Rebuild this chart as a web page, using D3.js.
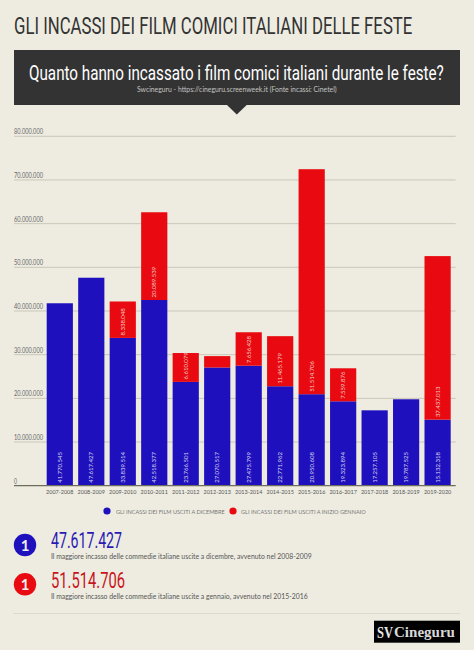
<!DOCTYPE html>
<html><head><meta charset="utf-8">
<script src="https://cdn.jsdelivr.net/npm/d3@7/dist/d3.min.js"></script>
<style>html,body{margin:0;padding:0;background:#eeece1;}svg{display:block}</style>
</head><body><svg id="c" width="474" height="650"></svg>
<script>
const seasons=["2007-2008","2008-2009","2009-2010","2010-2011","2011-2012","2012-2013","2013-2014","2014-2015","2015-2016","2016-2017","2017-2018","2018-2019","2019-2020"];
const december=[41770545,47617427,33839514,42518377,23766501,27070517,27475799,22771962,20950608,19323894,17257105,19787525,15132318];
const january=[0,0,8338048,20089539,6610079,2600000,7656428,11465179,51514706,7559876,0,0,37437013];
const janLabelled=[false,false,true,true,true,false,true,true,true,true,false,false,true];
const yTicks=[0,10000000,20000000,30000000,40000000,50000000,60000000,70000000,80000000];
const legendLabels=["GLI INCASSI DEI FILM USCITI A DICEMBRE","GLI INCASSI DEI FILM USCITI A INIZIO GENNAIO"];
const BLUE="#1f10bd",RED="#e80a10",DARK="#333333",BODY="'Lato','Noto Sans',sans-serif",COND="'Liberation Sans Narrow','Roboto',sans-serif";
const fmt=d3.formatLocale({decimal:",",thousands:".",grouping:[3],currency:["",""]}).format(",d");
const svg=d3.select("#c");
svg.append("rect").attr("width",474).attr("height",650).attr("fill","#eeece1");
// Place text at (tx,ty) scaled horizontally so its rendered width is w; anchor handled by start-position.
function label(parent,t,tx,ty,w,font,size,fill,weight){
  const s=parent.append("text").attr("font-family",font).attr("font-size",size).attr("fill",fill).attr("font-weight",weight||400).text(t);
  const n=s.node().getComputedTextLength();
  s.attr("transform",`translate(${tx},${ty}) scale(${w/n},1)`);
  return s;
}
label(svg,"GLI INCASSI DEI FILM COMICI ITALIANI DELLE FESTE",14,34.3,398.7,COND,23.5,DARK);
svg.append("rect").attr("x",14).attr("y",50).attr("width",446).attr("height",55).attr("fill",DARK);
svg.append("path").attr("d",d3.line()([[227,105],[246.7,105],[236.8,114.4]])+"Z").attr("fill",DARK);
label(svg,"Quanto hanno incassato i film comici italiani durante le feste?",29,80,415,COND,19.5,"#fff");
label(svg,"Swcineguru - https://cineguru.screenweek.it (Fonte incassi: Cinetel)",137,92,200,BODY,7,"#c4c4c0");

const y=d3.scaleLinear().domain([0,80000000]).range([485.7,136.3]);
const x=d3.scaleBand().domain(seasons).range([46.7,450.7]).paddingInner(0.168).paddingOuter(0);
const X0=14,X1=455.7;
const g=svg.append("g");
g.selectAll("line.g").data(yTicks.filter(d=>d>0)).join("line").attr("x1",X0).attr("x2",X1).attr("y1",d=>y(d)).attr("y2",d=>y(d)).attr("stroke","#c9c7b9").attr("stroke-width",1);
yTicks.forEach(d=>label(g,d===0?"0":fmt(d),X0,y(d)-2,d===0?3:29,BODY,6.8,"#666"));
const cols=g.selectAll("g.c").data(seasons).join("g");
cols.append("rect").attr("x",d=>x(d)).attr("width",x.bandwidth()).attr("y",(d,i)=>y(december[i])).attr("height",(d,i)=>y(0)-y(december[i])).attr("fill",BLUE);
cols.append("rect").attr("x",d=>x(d)).attr("width",x.bandwidth()).attr("y",(d,i)=>y(december[i]+january[i])).attr("height",(d,i)=>y(december[i])-y(december[i]+january[i])).attr("fill",RED);
const cx=d=>x(d)+x.bandwidth()/2;
cols.append("text").attr("transform",d=>`translate(${cx(d)+2},482.8) rotate(-90)`).attr("font-family",BODY).attr("font-size",6).attr("fill","#d5d3ee").text((d,i)=>fmt(december[i]));
cols.filter((d,i)=>janLabelled[i]).append("text").attr("transform",d=>{const i=seasons.indexOf(d);return `translate(${cx(d)+2},${y(december[i])-2.5}) rotate(-90)`;}).attr("font-family",BODY).attr("font-size",6).attr("fill","#f5c6c0").text(d=>fmt(january[seasons.indexOf(d)]));
g.append("line").attr("x1",X0).attr("x2",X1).attr("y1",y(0)).attr("y2",y(0)).attr("stroke","#6e6c5c").attr("stroke-width",1.3);
seasons.forEach(d=>label(g,d,cx(d)-13.7,494.3,27.4,BODY,6.2,"#555"));
[[107,BLUE,116,legendLabels[0],109],[233,RED,241,legendLabels[1],125]].forEach(([c,col,tx,t,w])=>{
 svg.append("circle").attr("cx",c).attr("cy",511).attr("r",3.6).attr("fill",col);
 label(svg,t,tx,513.5,w,BODY,6,"#777");
});
[[545,BLUE,"47.617.427","Il maggiore incasso delle commedie italiane uscite a dicembre, avvenuto nel 2008-2009",261,"#2a1ab5",71,548,559.3],
 [584.3,RED,"51.514.706","Il maggiore incasso delle commedie italiane uscite a gennaio, avvenuto nel 2015-2016",257,"#c8141c",74,587.7,598.5]].forEach(([cy,col,num,txt,w,nc,nw,ny,ty])=>{
 svg.append("circle").attr("cx",25).attr("cy",cy).attr("r",11.2).attr("fill",col);
 svg.append("text").attr("x",25).attr("y",cy+5.5).attr("text-anchor","middle").attr("font-family",BODY).attr("font-weight",700).attr("font-size",15).attr("fill","#eee").text("1");
 label(svg,num,51,ny,nw,COND,22,nc);
 label(svg,txt,51,ty,w,BODY,6.8,"#555");
});
svg.append("line").attr("x1",13).attr("x2",460).attr("y1",613.5).attr("y2",613.5).attr("stroke","#dcdad0");
svg.append("rect").attr("x",374).attr("y",620.7).attr("width",86).attr("height",22).attr("fill","#000");
label(svg,"SV",377,638,16,"'Liberation Serif',serif",17,"#e8e8e8",700);
label(svg,"Cineguru",394,637,61,"'Liberation Serif',serif",14.5,"#d8d8d8",700);
</script></body></html>
